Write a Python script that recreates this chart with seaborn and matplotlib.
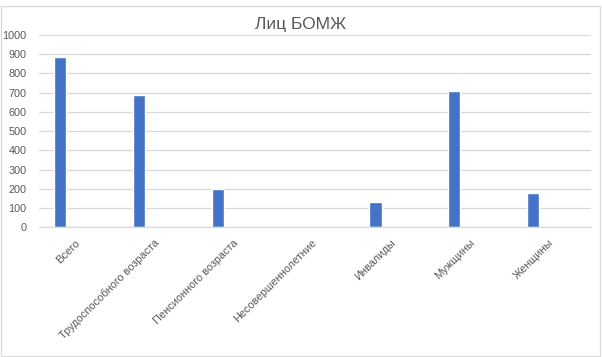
import matplotlib
matplotlib.use("Agg")
import matplotlib.pyplot as plt
import seaborn as sns
import pandas as pd
from matplotlib.patches import Rectangle

categories = ["Всего", "Трудоспособного возраста", "Пенсионного возраста",
              "Несовершеннолетние", "Инвалиды", "Мужщины", "Женщины"]
values = [885, 690, 200, 0, 132, 710, 180]
series_names = ["Ряд1", "Ряд2", "Ряд3", "Ряд4"]
y_ticks = list(range(0, 1001, 100))
title = "Лиц БОМЖ"

sns.set_theme(style="white")
plt.rcParams['font.family'] = ['Liberation Sans', 'DejaVu Sans']

df = pd.DataFrame({"cat": categories, "val": values, "series": series_names[0]})

fig = plt.figure(figsize=(6.02, 3.57), dpi=100)
ax = fig.add_axes([39/602, 1-227.3/357, (591-39)/602, (227.3-35)/357])

sns.barplot(data=df, x="cat", y="val", hue="series", hue_order=series_names,
            order=categories, palette=["#4472C4"] * 4, width=0.62,
            dodge=True, legend=False, ax=ax, saturation=1, errorbar=None)

ax.set_xlim(-0.5, len(categories) - 0.5)
ax.set_ylim(0, 1000)
ax.set_yticks(y_ticks)
ax.set_yticklabels([str(t) for t in y_ticks], fontsize=7.8, color="#595959")
ax.tick_params(axis="y", length=0, pad=9)
ax.set_xticks(range(len(categories)))
ax.set_xticklabels(categories, fontsize=7.9, color="#595959", rotation=45,
                   ha="right", va="center", rotation_mode="anchor")
ax.tick_params(axis="x", length=0, pad=10)
ax.set_xlabel("")
ax.set_ylabel("")
ax.yaxis.grid(True, color="#d9d9d9", linewidth=0.9)
ax.set_axisbelow(True)
for s in ["left", "right", "top"]:
    ax.spines[s].set_visible(False)
ax.spines["bottom"].set_color("#d9d9d9")
ax.spines["bottom"].set_linewidth(0.9)

fig.text(0.5, 1 - 24/357, title, ha="center", va="center",
         fontsize=12.5, color="#595959")

fig.patches.append(Rectangle((1/602, 1/357), 599/602, 350/357,
                             transform=fig.transFigure, fill=False,
                             edgecolor="#d9d9d9", linewidth=0.9))

fig.savefig("out.png", dpi=100, facecolor="white")
